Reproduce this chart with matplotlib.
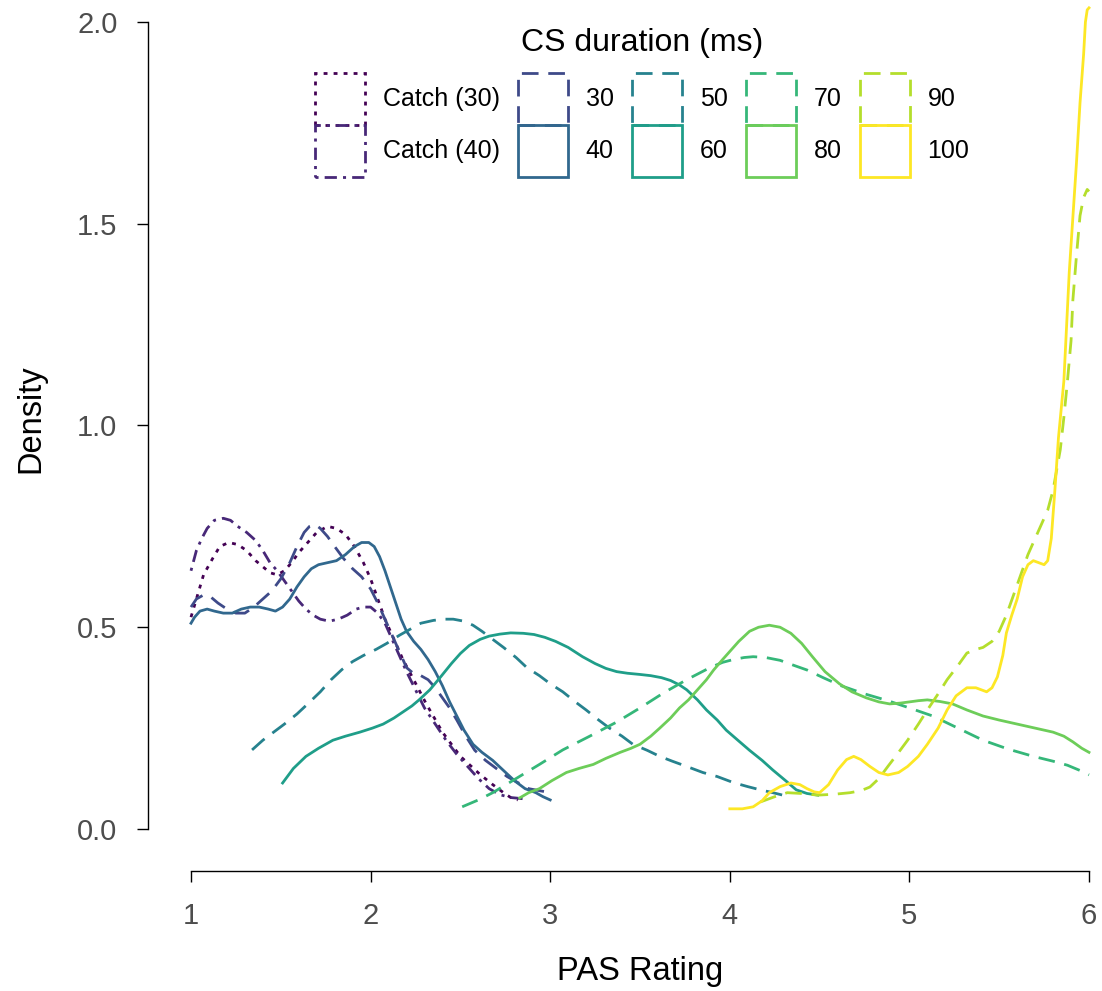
import matplotlib
matplotlib.use('Agg')
import matplotlib.pyplot as plt
from matplotlib.patches import Patch

plt.rcParams['font.family'] = ['Liberation Sans', 'DejaVu Sans']

# --- Dados ---
labels = ['Catch (30)', 'Catch (40)', '30', '40', '50', '60', '70', '80', '90', '100']
colors = ['#440154', '#482878', '#3E4A89', '#31688E', '#26828E',
          '#1F9E89', '#35B779', '#6DCD59', '#B4DE2C', '#FDE725']

catch30_x = [1.00, 1.03, 1.07, 1.12, 1.16, 1.21, 1.26, 1.31, 1.36, 1.40, 1.44, 1.48, 1.52,
             1.56, 1.60, 1.65, 1.70, 1.76, 1.81, 1.86, 1.91, 1.96, 2.00, 2.04, 2.08, 2.13,
             2.18, 2.24, 2.31, 2.40, 2.50, 2.61, 2.68, 2.74, 2.78, 2.82]
catch30_y = [0.525, 0.57, 0.63, 0.67, 0.70, 0.71, 0.705, 0.69, 0.665, 0.65, 0.635, 0.63, 0.64,
             0.66, 0.685, 0.71, 0.735, 0.75, 0.745, 0.73, 0.70, 0.66, 0.62, 0.57, 0.52, 0.47,
             0.42, 0.37, 0.31, 0.24, 0.18, 0.135, 0.11, 0.09, 0.078, 0.072]

catch40_x = [1.00, 1.03, 1.06, 1.09, 1.13, 1.18, 1.22, 1.26, 1.31, 1.36, 1.40, 1.44, 1.48,
             1.52, 1.56, 1.60, 1.64, 1.68, 1.72, 1.77, 1.82, 1.87, 1.92, 1.96, 2.00, 2.04,
             2.08, 2.12, 2.16, 2.20, 2.25, 2.30, 2.36, 2.42, 2.48, 2.54, 2.60, 2.66, 2.72,
             2.78, 2.85]
catch40_y = [0.64, 0.69, 0.72, 0.745, 0.765, 0.77, 0.765, 0.75, 0.735, 0.715, 0.69, 0.66, 0.64,
             0.615, 0.59, 0.565, 0.545, 0.53, 0.52, 0.515, 0.52, 0.53, 0.545, 0.55, 0.55, 0.535,
             0.51, 0.47, 0.43, 0.39, 0.345, 0.30, 0.26, 0.22, 0.185, 0.155, 0.125, 0.10, 0.085,
             0.078, 0.075]

d30_x = [1.00, 1.03, 1.07, 1.11, 1.15, 1.20, 1.25, 1.30, 1.35, 1.40, 1.45, 1.50, 1.55, 1.59,
         1.63, 1.66, 1.69, 1.72, 1.76, 1.80, 1.85, 1.90, 1.95, 2.00, 2.04, 2.08, 2.12, 2.16,
         2.20, 2.24, 2.28, 2.32, 2.36, 2.40, 2.44, 2.48, 2.53, 2.58, 2.64, 2.70, 2.76, 2.82,
         2.88, 2.94, 3.00]
d30_y = [0.55, 0.57, 0.58, 0.575, 0.56, 0.545, 0.535, 0.535, 0.55, 0.57, 0.59, 0.62, 0.66, 0.70,
         0.735, 0.75, 0.755, 0.745, 0.725, 0.70, 0.67, 0.645, 0.625, 0.595, 0.56, 0.52, 0.48, 0.44,
         0.40, 0.385, 0.38, 0.37, 0.35, 0.325, 0.30, 0.27, 0.23, 0.195, 0.17, 0.15, 0.13, 0.115,
         0.10, 0.095, 0.09]

d40_x = [1.00, 1.02, 1.05, 1.09, 1.13, 1.18, 1.23, 1.28, 1.33, 1.38, 1.43, 1.47, 1.51, 1.55,
         1.59, 1.63, 1.67, 1.71, 1.76, 1.81, 1.86, 1.91, 1.95, 1.99, 2.02, 2.05, 2.08, 2.11,
         2.14, 2.17, 2.20, 2.24, 2.28, 2.32, 2.36, 2.40, 2.44, 2.48, 2.52, 2.57, 2.62, 2.68,
         2.74, 2.80, 2.86, 2.92, 2.96, 3.00]
d40_y = [0.51, 0.525, 0.54, 0.545, 0.54, 0.535, 0.535, 0.545, 0.55, 0.55, 0.545, 0.54, 0.55, 0.57,
         0.60, 0.625, 0.645, 0.655, 0.66, 0.665, 0.68, 0.70, 0.71, 0.71, 0.70, 0.675, 0.64, 0.60,
         0.56, 0.52, 0.49, 0.465, 0.445, 0.42, 0.39, 0.355, 0.315, 0.28, 0.245, 0.21, 0.19, 0.17,
         0.145, 0.12, 0.10, 0.09, 0.08, 0.072]

d50_x = [1.34, 1.40, 1.46, 1.52, 1.59, 1.65, 1.72, 1.78, 1.84, 1.90, 1.96, 2.03, 2.09, 2.16,
         2.22, 2.28, 2.35, 2.41, 2.46, 2.52, 2.57, 2.62, 2.68, 2.74, 2.81, 2.87, 2.94, 3.00,
         3.07, 3.14, 3.20, 3.27, 3.33, 3.40, 3.46, 3.54, 3.61, 3.68, 3.76, 3.85, 3.93, 4.02,
         4.10, 4.17, 4.24, 4.33]
d50_y = [0.196, 0.22, 0.24, 0.26, 0.285, 0.31, 0.34, 0.37, 0.395, 0.415, 0.43, 0.445, 0.46, 0.48,
         0.495, 0.51, 0.517, 0.52, 0.52, 0.515, 0.505, 0.49, 0.47, 0.45, 0.425, 0.40, 0.38, 0.36,
         0.34, 0.315, 0.295, 0.27, 0.25, 0.23, 0.21, 0.195, 0.18, 0.168, 0.155, 0.14, 0.13, 0.115,
         0.105, 0.097, 0.09, 0.08]

d60_x = [1.51, 1.57, 1.64, 1.71, 1.79, 1.86, 1.94, 2.01, 2.07, 2.13, 2.18, 2.23, 2.27, 2.33,
         2.39, 2.45, 2.50, 2.55, 2.61, 2.66, 2.72, 2.78, 2.85, 2.91, 2.97, 3.03, 3.10, 3.18,
         3.25, 3.31, 3.37, 3.43, 3.50, 3.56, 3.62, 3.67, 3.72, 3.76, 3.82, 3.87, 3.93, 3.98,
         4.05, 4.11, 4.18, 4.24, 4.31, 4.37, 4.43, 4.49]
d60_y = [0.114, 0.15, 0.18, 0.20, 0.22, 0.23, 0.24, 0.25, 0.26, 0.275, 0.29, 0.305, 0.32, 0.345,
         0.377, 0.41, 0.435, 0.455, 0.47, 0.478, 0.483, 0.486, 0.485, 0.482, 0.475, 0.465, 0.45, 0.427,
         0.41, 0.398, 0.39, 0.386, 0.383, 0.38, 0.375, 0.368, 0.357, 0.345, 0.32, 0.295, 0.27, 0.245,
         0.218, 0.195, 0.17, 0.146, 0.12, 0.097, 0.088, 0.084]

d70_x = [2.51, 2.60, 2.68, 2.81, 2.94, 3.07, 3.22, 3.37, 3.50, 3.63, 3.76, 3.89, 3.96, 4.02,
         4.08, 4.13, 4.20, 4.28, 4.36, 4.43, 4.52, 4.62, 4.75, 4.88, 5.00, 5.13, 5.27, 5.41,
         5.55, 5.69, 5.80, 5.88, 5.95, 6.00]
d70_y = [0.055, 0.072, 0.09, 0.125, 0.16, 0.196, 0.23, 0.265, 0.30, 0.337, 0.37, 0.40, 0.413, 0.42,
         0.425, 0.427, 0.425, 0.418, 0.405, 0.394, 0.375, 0.355, 0.335, 0.318, 0.30, 0.28, 0.25, 0.22,
         0.198, 0.18, 0.168, 0.158, 0.145, 0.134]

d80_x = [2.83, 2.88, 2.94, 3.01, 3.09, 3.16, 3.24, 3.31, 3.39, 3.45, 3.50, 3.56, 3.61, 3.67,
         3.72, 3.77, 3.82, 3.87, 3.91, 3.96, 4.00, 4.05, 4.11, 4.16, 4.22, 4.28, 4.34, 4.40,
         4.46, 4.53, 4.61, 4.68, 4.76, 4.83, 4.89, 4.95, 5.00, 5.05, 5.10, 5.17, 5.24, 5.32,
         5.41, 5.50, 5.60, 5.70, 5.80, 5.86, 5.91, 5.96, 6.00]
d80_y = [0.077, 0.09, 0.10, 0.12, 0.14, 0.15, 0.16, 0.175, 0.19, 0.20, 0.21, 0.23, 0.25, 0.275,
         0.30, 0.32, 0.345, 0.37, 0.394, 0.42, 0.44, 0.465, 0.49, 0.50, 0.505, 0.50, 0.485, 0.46,
         0.427, 0.39, 0.36, 0.34, 0.325, 0.315, 0.31, 0.312, 0.315, 0.318, 0.32, 0.316, 0.31, 0.295,
         0.28, 0.27, 0.26, 0.25, 0.24, 0.23, 0.216, 0.20, 0.19]

d90_x = [4.17, 4.25, 4.32, 4.40, 4.49, 4.58, 4.67, 4.73, 4.78, 4.83, 4.88, 4.94, 4.99, 5.05,
         5.10, 5.16, 5.21, 5.27, 5.32, 5.37, 5.41, 5.46, 5.50, 5.54, 5.58, 5.62, 5.66, 5.70,
         5.73, 5.77, 5.80, 5.82, 5.84, 5.86, 5.88, 5.90, 5.91, 5.93, 5.95, 5.97, 5.99, 6.00]
d90_y = [0.067, 0.08, 0.09, 0.088, 0.084, 0.086, 0.09, 0.095, 0.104, 0.125, 0.155, 0.19, 0.22, 0.26,
         0.295, 0.335, 0.37, 0.405, 0.436, 0.445, 0.45, 0.465, 0.49, 0.53, 0.58, 0.63, 0.68, 0.72,
         0.75, 0.79, 0.84, 0.89, 0.94, 1.02, 1.11, 1.21, 1.31, 1.42, 1.52, 1.565, 1.585, 1.58]

d100_x = [4.00, 4.07, 4.13, 4.18, 4.22, 4.28, 4.34, 4.39, 4.43, 4.47, 4.50, 4.55, 4.60, 4.65,
          4.69, 4.73, 4.78, 4.83, 4.88, 4.94, 4.99, 5.05, 5.10, 5.16, 5.21, 5.26, 5.32, 5.37,
          5.43, 5.46, 5.49, 5.52, 5.54, 5.57, 5.60, 5.63, 5.66, 5.69, 5.72, 5.75, 5.77, 5.79,
          5.81, 5.83, 5.86, 5.89, 5.93, 5.95, 5.97, 5.98, 5.99, 6.00]
d100_y = [0.05, 0.05, 0.055, 0.07, 0.09, 0.105, 0.114, 0.11, 0.10, 0.092, 0.09, 0.11, 0.146, 0.172,
          0.18, 0.172, 0.155, 0.14, 0.134, 0.14, 0.155, 0.18, 0.21, 0.25, 0.295, 0.33, 0.35, 0.35,
          0.34, 0.35, 0.377, 0.43, 0.486, 0.53, 0.57, 0.625, 0.655, 0.665, 0.66, 0.655, 0.665, 0.72,
          0.84, 0.97, 1.11, 1.38, 1.65, 1.80, 1.92, 2.00, 2.03, 2.035]

series_x = [catch30_x, catch40_x, d30_x, d40_x, d50_x, d60_x, d70_x, d80_x, d90_x, d100_x]
series_y = [catch30_y, catch40_y, d30_y, d40_y, d50_y, d60_y, d70_y, d80_y, d90_y, d100_y]

# estilos de linha (em unidades da espessura)
dotted = (0, (1.4, 2.2))
dotdash = (0, (1.1, 2.2, 4.4, 2.2))
dashed = (0, (6, 3.5))
styles = [dotted, dotdash, dashed, '-', dashed, '-', dashed, '-', dashed, '-']

LW = 2.0

# --- Figura ---
fig = plt.figure(figsize=(11.02, 9.91), dpi=100)
ax = fig.add_axes([148 / 1102, 120 / 991, 952 / 1102, 871 / 991])

for xs, ys, c, ls in zip(series_x, series_y, colors, styles):
    ax.plot(xs, ys, color=c, linestyle=ls, linewidth=LW,
            solid_joinstyle='round', dash_joinstyle='round')

ax.set_xlim(0.7606, 6.0612)
ax.set_ylim(-0.1041, 2.0545)

for s in ['top', 'right']:
    ax.spines[s].set_visible(False)
ax.spines['left'].set_bounds(0, 2)
ax.spines['bottom'].set_bounds(1, 6)
for s in ['left', 'bottom']:
    ax.spines[s].set_linewidth(1.0)
    ax.spines[s].set_color('black')

ax.set_xticks([1, 2, 3, 4, 5, 6])
ax.set_yticks([0.0, 0.5, 1.0, 1.5, 2.0])
ax.set_yticklabels(['0.0', '0.5', '1.0', '1.5', '2.0'])
ax.tick_params(length=8, width=1.0, pad=14, labelsize=21, labelcolor='#4D4D4D')

ax.set_xlabel('PAS Rating', fontsize=23.5)
ax.xaxis.set_label_coords((640 - 148) / 952, -0.098)
ax.set_ylabel('Density', fontsize=23.5)
ax.yaxis.set_label_coords(-0.107, (871 - 419) / 871)

# legenda
fig.text(642 / 1102, 1 - 43 / 991, 'CS duration (ms)', fontsize=23,
         ha='center', va='center')
handles = [Patch(facecolor='none', edgecolor=c, linestyle=ls, linewidth=LW)
           for c, ls in zip(colors, styles)]
fig.legend(handles, labels, ncol=5, loc='upper center',
           bbox_to_anchor=(642 / 1102, 1 - 73 / 991), frameon=False,
           fontsize=18, handlelength=2.0, handleheight=2.823, handletextpad=0.72,
           columnspacing=0.72, labelspacing=0, borderpad=0, borderaxespad=0)

fig.savefig('out.png', dpi=100)
